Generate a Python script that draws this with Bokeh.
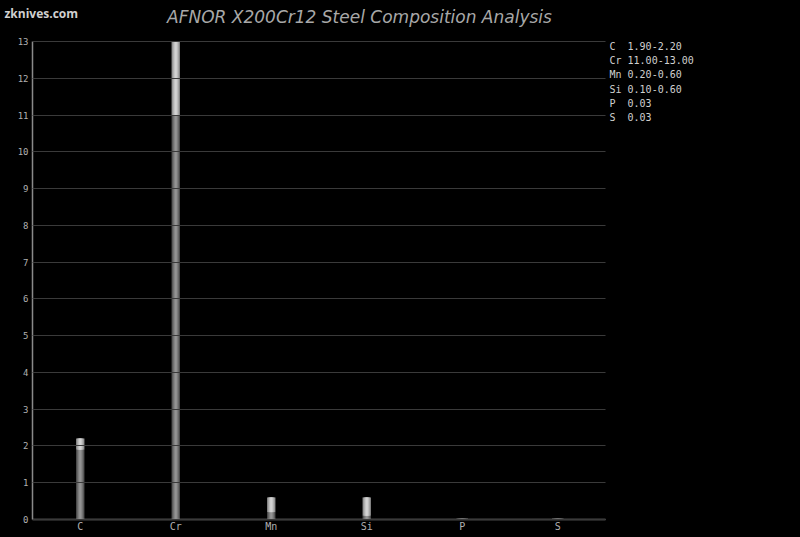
from bokeh.plotting import figure
from bokeh.models import Label, Range1d, FixedTicker
from bokeh.embed import file_html
from bokeh.resources import INLINE

elements = ["C", "Cr", "Mn", "Si", "P", "S"]
min_vals = [1.90, 11.00, 0.20, 0.10, 0.03, 0.03]
max_vals = [2.20, 13.00, 0.60, 0.60, 0.03, 0.03]
range_labels = ["1.90-2.20", "11.00-13.00", "0.20-0.60", "0.10-0.60", "0.03", "0.03"]
y_ticks = list(range(0, 14))

W, H = 800, 537
# target plot-area box in page pixels
L, R, T, B = 32, 605, 41, 519
n = len(elements)
ymax = 13
px_x = (R - L) / n
px_y = (B - T) / ymax

p = figure(width=W, height=H, output_backend="svg", toolbar_location=None,
           x_range=Range1d(-L / px_x, (W - L) / px_x),
           y_range=Range1d(-(H - B) / px_y, ymax + T / px_y),
           min_border=0, min_border_left=0, min_border_right=0,
           min_border_top=0, min_border_bottom=0)
p.background_fill_color = "#000000"
p.border_fill_color = "#000000"
p.outline_line_color = None

def dx(page_x):
    return (page_x - L) / px_x
def dy(page_y):
    return (B - page_y) / px_y

xs = [i + 0.5 for i in range(n)]
lower_layers = [(0.088, "#4e4e4e"), (0.066, "#6a6a6a"), (0.044, "#808080"), (0.022, "#939393")]
upper_layers = [(0.088, "#8a8a8a"), (0.066, "#a8a8a8"), (0.044, "#c0c0c0"), (0.022, "#d2d2d2")]
for w, c in lower_layers:
    p.vbar(x=xs, top=min_vals, bottom=0, width=w, fill_color=c, line_color=None)
for w, c in upper_layers:
    p.vbar(x=xs, top=max_vals, bottom=min_vals, width=w, fill_color=c, line_color=None)
p.vbar(x=xs, top=max_vals, bottom=0, width=0.12, fill_color="#555555", line_color=None,
       fill_alpha=[0, 0, 0, 0, 1, 1])

p.xaxis.ticker = FixedTicker(ticks=xs)
p.xaxis.major_label_overrides = {x: e for x, e in zip(xs, elements)}
p.yaxis.ticker = FixedTicker(ticks=y_ticks)
p.xaxis.fixed_location = 0
p.yaxis.fixed_location = 0
p.xaxis.bounds = (0, n)
p.yaxis.bounds = (0, ymax)
for ax in (p.xaxis, p.yaxis):
    ax.axis_line_color = "#8a8a8a"
    ax.axis_line_width = 1.5
    ax.major_tick_line_color = None
    ax.minor_tick_line_color = None
    ax.major_tick_out = 0
    ax.major_tick_in = 0
    ax.major_label_text_color = "#b0b0b0"
    ax.major_label_text_font = "DejaVu Sans Mono"
    ax.major_label_text_font_size = "9px"
    ax.major_label_standoff = 4
p.xaxis.major_label_text_font_size = "10px"
p.xaxis.major_label_standoff = 1
p.xgrid.grid_line_color = None
p.ygrid.ticker = FixedTicker(ticks=y_ticks)
p.ygrid.cross_bounds = (0, n)
p.ygrid.grid_line_color = "#3a3a3a"
p.ygrid.level = "overlay"

p.add_layout(Label(x=dx(359), y=dy(16), text="AFNOR X200Cr12 Steel Composition Analysis",
                   text_align="center", text_baseline="middle", text_font="DejaVu Sans",
                   text_font_style="italic", text_font_size="17px", text_color="#a8a8a8"))
p.add_layout(Label(x=dx(4), y=dy(13), text="zknives.com", text_align="left",
                   text_baseline="middle", text_font="Open Sans", text_font_style="bold",
                   text_font_size="12px", text_color="#d0d0d0"))

for i, (e, r) in enumerate(zip(elements, range_labels)):
    p.add_layout(Label(x=dx(609), y=dy(46 + i * 14.2),
                       text=e + "\u00a0" * (3 - len(e)) + r,
                       text_align="left", text_baseline="middle",
                       text_font="DejaVu Sans Mono", text_font_size="10px",
                       text_color="#d0d0d0"))

html = file_html(p, INLINE)
html = html.replace("<body>", "<body style=\"background:#000000;\">")
open("out.html", "w").write(html)
